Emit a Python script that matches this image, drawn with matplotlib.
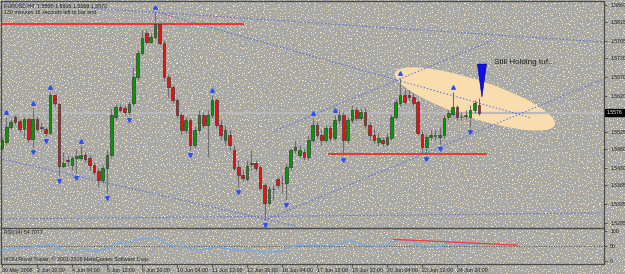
import numpy as np
import matplotlib
matplotlib.use("Agg")
import matplotlib.pyplot as plt
import matplotlib.transforms as mtransforms
from matplotlib.patches import Ellipse, Polygon

plt.rcParams['font.family'] = ['Liberation Sans', 'DejaVu Sans']

# ---- data (EURUSD H4) ----
opens = [1.5482, 1.5498, 1.5538, 1.5564, 1.5554, 1.5533, 1.5559, 1.5506, 1.5559, 1.5538,
         1.5533, 1.5522, 1.5622, 1.5599, 1.5435, 1.5451, 1.5438, 1.5456, 1.5456, 1.5464,
         1.5456, 1.5438, 1.5422, 1.5398, 1.5430, 1.5464, 1.5564, 1.5591, 1.5588, 1.5578,
         1.5601, 1.5670, 1.5733, 1.5786, 1.5762, 1.5775, 1.5810, 1.5760, 1.5670, 1.5643,
         1.5609, 1.5570, 1.5530, 1.5556, 1.5490, 1.5530, 1.5570, 1.5543, 1.5570, 1.5609,
         1.5543, 1.5504, 1.5517, 1.5477, 1.5432, 1.5411, 1.5401, 1.5440, 1.5443, 1.5432,
         1.5385, 1.5337, 1.5374, 1.5401, 1.5390, 1.5390, 1.5432, 1.5477, 1.5464, 1.5472,
         1.5459, 1.5504, 1.5543, 1.5517, 1.5504, 1.5535, 1.5509, 1.5556, 1.5570, 1.5504,
         1.5556, 1.5583, 1.5562, 1.5578, 1.5543, 1.5517, 1.5498, 1.5504, 1.5493, 1.5509,
         1.5564, 1.5601, 1.5622, 1.5622, 1.5617, 1.5604, 1.5520, 1.5485, 1.5512, 1.5514,
         1.5512, 1.5517, 1.5564, 1.5572, 1.5591, 1.5564, 1.5567, 1.5564, 1.5583, 1.5595]
highs = [1.5512, 1.5564, 1.5559, 1.5570, 1.5559, 1.5564, 1.5564, 1.5588, 1.5564, 1.5551,
         1.5538, 1.5630, 1.5625, 1.5601, 1.5472, 1.5461, 1.5461, 1.5480, 1.5488, 1.5472,
         1.5464, 1.5446, 1.5430, 1.5438, 1.5477, 1.5588, 1.5599, 1.5599, 1.5596, 1.5607,
         1.5696, 1.5741, 1.5794, 1.5794, 1.5786, 1.5842, 1.5815, 1.5767, 1.5678, 1.5649,
         1.5614, 1.5578, 1.5564, 1.5562, 1.5541, 1.5583, 1.5578, 1.5583, 1.5622, 1.5614,
         1.5556, 1.5543, 1.5530, 1.5490, 1.5451, 1.5424, 1.5451, 1.5477, 1.5451, 1.5438,
         1.5390, 1.5382, 1.5385, 1.5406, 1.5411, 1.5443, 1.5482, 1.5504, 1.5490, 1.5482,
         1.5517, 1.5562, 1.5551, 1.5530, 1.5543, 1.5543, 1.5570, 1.5583, 1.5578, 1.5564,
         1.5596, 1.5591, 1.5588, 1.5588, 1.5551, 1.5535, 1.5525, 1.5512, 1.5522, 1.5572,
         1.5612, 1.5667, 1.5641, 1.5635, 1.5628, 1.5609, 1.5530, 1.5520, 1.5530, 1.5530,
         1.5538, 1.5570, 1.5583, 1.5630, 1.5596, 1.5578, 1.5583, 1.5596, 1.5609, 1.5615]
lows = [1.5477, 1.5493, 1.5533, 1.5546, 1.5525, 1.5509, 1.5498, 1.5485, 1.5527, 1.5527,
        1.5514, 1.5520, 1.5593, 1.5409, 1.5430, 1.5435, 1.5424, 1.5417, 1.5451, 1.5446,
        1.5424, 1.5411, 1.5380, 1.5390, 1.5364, 1.5456, 1.5556, 1.5578, 1.5570, 1.5570,
        1.5593, 1.5662, 1.5728, 1.5757, 1.5760, 1.5770, 1.5754, 1.5659, 1.5617, 1.5601,
        1.5562, 1.5517, 1.5522, 1.5477, 1.5482, 1.5522, 1.5535, 1.5459, 1.5562, 1.5535,
        1.5504, 1.5490, 1.5477, 1.5424, 1.5380, 1.5395, 1.5395, 1.5424, 1.5422, 1.5371,
        1.5292, 1.5332, 1.5345, 1.5377, 1.5364, 1.5345, 1.5424, 1.5469, 1.5459, 1.5451,
        1.5451, 1.5498, 1.5509, 1.5490, 1.5496, 1.5501, 1.5504, 1.5546, 1.5464, 1.5496,
        1.5548, 1.5554, 1.5556, 1.5535, 1.5504, 1.5493, 1.5488, 1.5488, 1.5488, 1.5504,
        1.5559, 1.5593, 1.5599, 1.5609, 1.5593, 1.5517, 1.5469, 1.5467, 1.5504, 1.5504,
        1.5493, 1.5509, 1.5556, 1.5567, 1.5556, 1.5556, 1.5559, 1.5538, 1.5575, 1.5569]
closes = [1.5504, 1.5538, 1.5551, 1.5551, 1.5533, 1.5559, 1.5506, 1.5559, 1.5533, 1.5535,
          1.5522, 1.5622, 1.5601, 1.5435, 1.5443, 1.5448, 1.5456, 1.5461, 1.5464, 1.5453,
          1.5438, 1.5419, 1.5398, 1.5430, 1.5464, 1.5570, 1.5591, 1.5583, 1.5578, 1.5599,
          1.5670, 1.5733, 1.5773, 1.5762, 1.5775, 1.5810, 1.5760, 1.5670, 1.5643, 1.5609,
          1.5570, 1.5530, 1.5556, 1.5490, 1.5530, 1.5570, 1.5543, 1.5570, 1.5609, 1.5543,
          1.5517, 1.5530, 1.5490, 1.5430, 1.5411, 1.5403, 1.5435, 1.5443, 1.5430, 1.5377,
          1.5337, 1.5374, 1.5373, 1.5385, 1.5389, 1.5432, 1.5477, 1.5485, 1.5477, 1.5459,
          1.5504, 1.5543, 1.5517, 1.5504, 1.5535, 1.5509, 1.5556, 1.5570, 1.5504, 1.5556,
          1.5583, 1.5562, 1.5578, 1.5543, 1.5517, 1.5504, 1.5509, 1.5496, 1.5512, 1.5564,
          1.5604, 1.5622, 1.5604, 1.5617, 1.5601, 1.5522, 1.5485, 1.5512, 1.5517, 1.5517,
          1.5517, 1.5562, 1.5575, 1.5591, 1.5564, 1.5565, 1.5570, 1.5583, 1.5601, 1.5576]
rsi = [37, 38, 40, 42, 44, 43, 45, 47, 50, 51,
       51, 55, 54, 40, 38, 38, 39, 38, 38, 37,
       37, 36, 33, 36, 40, 52, 58, 60, 60, 61,
       66, 72, 76, 75, 76, 78, 72, 60, 54, 50,
       49, 48, 46, 42, 38, 37, 38, 40, 44, 47,
       45, 42, 40, 37, 36, 37, 37, 36, 35, 31,
       27, 30, 32, 34, 33, 40, 47, 50, 52, 51,
       52, 53, 51, 52, 51, 52, 55, 58, 62, 66,
       65, 60, 55, 52, 52, 50, 49, 50, 55, 62,
       68, 72, 70, 69, 66, 52, 44, 46, 47, 47,
       48, 55, 58, 61, 56, 55, 55, 57, 60, 54.7]

up_fractals = [1, 7, 11, 18, 35, 48, 71, 76, 91, 103]
down_fractals = [7, 10, 13, 17, 24, 29, 43, 54, 60, 65, 78, 97, 100, 107]

time_labels = ["30 May 2008", "2 Jun 20:00", "4 Jun 04:00", "5 Jun 12:00", "6 Jun 20:00",
               "10 Jun 04:00", "11 Jun 12:00", "12 Jun 20:00", "16 Jun 04:00", "17 Jun 12:00",
               "18 Jun 20:00", "20 Jun 04:00", "23 Jun 12:00", "24 Jun 20:00"]
price_ticks = [1.5860, 1.5815, 1.5765, 1.5720, 1.5670, 1.5620,
               1.5525, 1.5480, 1.5430, 1.5385, 1.5335, 1.5285]

# trendlines as (bar, price) end points
trend_lines = [[(-1, 1.5868), (138, 1.5762)],
               [(35, 1.5842), (121, 1.5562)],
               [(-1, 1.5456), (67, 1.5277)],
               [(-1, 1.5295), (138, 1.5311)],
               [(60, 1.5292), (138, 1.5667)],
               [(62, 1.5526), (112, 1.5766)]]
red_lines = [[(-1, 1.5810), (55, 1.5810)],
             [(74.7, 1.5467), (110.6, 1.5467)]]
rsi_red_line = [(89.4, 72), (117.7, 53)]

# ---- figure ----
W, H = 625, 274
fig = plt.figure(figsize=(W / 100, H / 100), dpi=100)

# dotted grey backdrop: one pale dot per 3x3 cell, jittered inside the cell
yy, xx = np.mgrid[0:H, 0:W]
cx, cy = xx // 3, yy // 3
h = (cx * 374761393 + cy * 668265263) & 0xffffffff
h = ((h ^ (h >> 13)) * 1274126177) & 0xffffffff
h = h ^ (h >> 16)
dot = (xx % 3 == h % 3) & (yy % 3 == (h // 3) % 3)
kind = (h // 9) % 5
bg = np.empty((H, W, 3))
bg[:] = np.array([168, 168, 166]) / 255
bg[dot & (kind < 3)] = np.array([244, 224, 170]) / 255
bg[dot & (kind == 3)] = np.array([236, 234, 222]) / 255
bg[dot & (kind == 4)] = np.array([214, 200, 160]) / 255
fig.figimage(bg, xo=0, yo=0, origin='upper', zorder=-10)

ax = fig.add_axes([1 / W, (H - 228) / H, 603 / W, 227 / H])
rs = fig.add_axes([1 / W, (H - 264) / H, 603 / W, 36 / H])
for a in (ax, rs):
    a.set_facecolor('none')
    for s in a.spines.values():
        s.set_color('#4a4a4a')
        s.set_linewidth(0.9)

idx = np.arange(len(closes))
o = np.array(opens); c = np.array(closes)
hi = np.array(highs); lo = np.array(lows)
bull = c >= o

ax.add_patch(Ellipse((0, 0), 168, 38, angle=-18, facecolor='#FADDAE', edgecolor='none',
                     zorder=0.5,
                     transform=mtransforms.ScaledTranslation(108.1, 1.5612, ax.transData)))
ax.axhline(closes[-1], color='#B9B9B9', lw=1.6, zorder=1)

for ln in trend_lines:
    xs, ys = zip(*ln)
    ax.plot(xs, ys, color='#5068E0', lw=0.7, ls=(0, (1.5, 2)), zorder=2)
for ln in red_lines:
    xs, ys = zip(*ln)
    ax.plot(xs, ys, color='#FF1E1E', lw=1.2, zorder=2)

ax.vlines(idx, lo, hi, color='#707070', lw=0.8, zorder=3)
body = np.maximum(np.abs(c - o), 0.00004)
ax.bar(idx, body, bottom=np.minimum(o, c), width=0.62,
       color=np.where(bull, '#0A960A', '#E81212'), edgecolor='#2a2a2a', lw=0.4, zorder=4)

up_tr = mtransforms.offset_copy(ax.transData, fig=fig, y=5, units='dots')
dn_tr = mtransforms.offset_copy(ax.transData, fig=fig, y=-5, units='dots')
ax.plot(up_fractals, hi[up_fractals], ls='none', marker='^', ms=2.6, color='#3050F0',
        transform=up_tr, zorder=5)
ax.plot(down_fractals, lo[down_fractals], ls='none', marker='v', ms=2.6, color='#3050F0',
        transform=dn_tr, zorder=5)

ax.add_patch(Polygon([(-4.5, 33), (4.5, 33), (0, 0)], closed=True, facecolor='#1010E6',
                     edgecolor='#00008A', lw=0.4, zorder=6,
                     transform=mtransforms.ScaledTranslation(109.7, 1.5617, ax.transData)))
ax.text(112.5, 1.5707, 'Still Holding tuf...', fontsize=5.9, color='#202020',
        va='center', ha='left', zorder=7)

ax.set_xlim(-0.23, 137.6)
ax.set_ylim(1.52713, 1.58706)
ax.yaxis.tick_right()
ax.set_yticks(price_ticks)
ax.set_yticklabels(['%.4f' % v for v in price_ticks])
ax.tick_params(axis='y', length=2, width=0.6, color='#404040', labelsize=3.7,
               labelcolor='#202020', pad=2.5)
ax.tick_params(axis='x', bottom=False, labelbottom=False)

bt = mtransforms.blended_transform_factory(ax.transAxes, ax.transData)
ax.text(1.004, closes[-1], '%.4f' % closes[-1], transform=bt, fontsize=3.7, color='white',
        va='center', ha='left', clip_on=False,
        bbox=dict(facecolor='black', edgecolor='black', pad=1.0))

# RSI panel
rs.plot(idx, rsi, color='#68AAF0', lw=0.8, zorder=3)
rs.axhline(50, color='#303030', lw=0.6, ls=(0, (1, 2)), zorder=2)
xs, ys = zip(*rsi_red_line)
rs.plot(xs, ys, color='#F03A3A', lw=0.9, zorder=4)
rs.set_xlim(-0.23, 137.6)
rs.set_ylim(-9.7, 109.7)
rs.yaxis.tick_right()
rs.set_yticks([0, 50, 100])
rs.set_yticklabels(['0', '50', '100'])
rs.tick_params(axis='y', length=2, width=0.6, color='#404040', labelsize=3.7,
               labelcolor='#202020', pad=2.5)
tick_pos = idx[::8][:len(time_labels)]
rs.set_xticks(tick_pos)
rs.set_xticklabels(time_labels)
rs.tick_params(axis='x', length=2, width=0.6, color='#404040', labelsize=3.8,
               labelcolor='#202020', pad=1.0)
for lbl in rs.get_xticklabels():
    lbl.set_ha('left')

fig.text(4 / W, 1 - 6 / H, 'EURUSD,H4  1.5595 1.5615 1.5569 1.5576', fontsize=3.8,
         color='#202020', va='center')
fig.text(4 / W, 1 - 12 / H, '130 minutes 16 seconds left to bar end', fontsize=3.8,
         color='#202020', va='center')
fig.text(4 / W, 1 - 232.5 / H, 'RSI(14) 54.7077', fontsize=3.8, color='#202020', va='center')
fig.text(4 / W, 1 - 259.5 / H, 'IKON Royal Trader, \u00a9 2001-2008 MetaQuotes Software Corp.',
         fontsize=3.8, color='#202020', va='center')

fig.savefig('out.png', dpi=100)
